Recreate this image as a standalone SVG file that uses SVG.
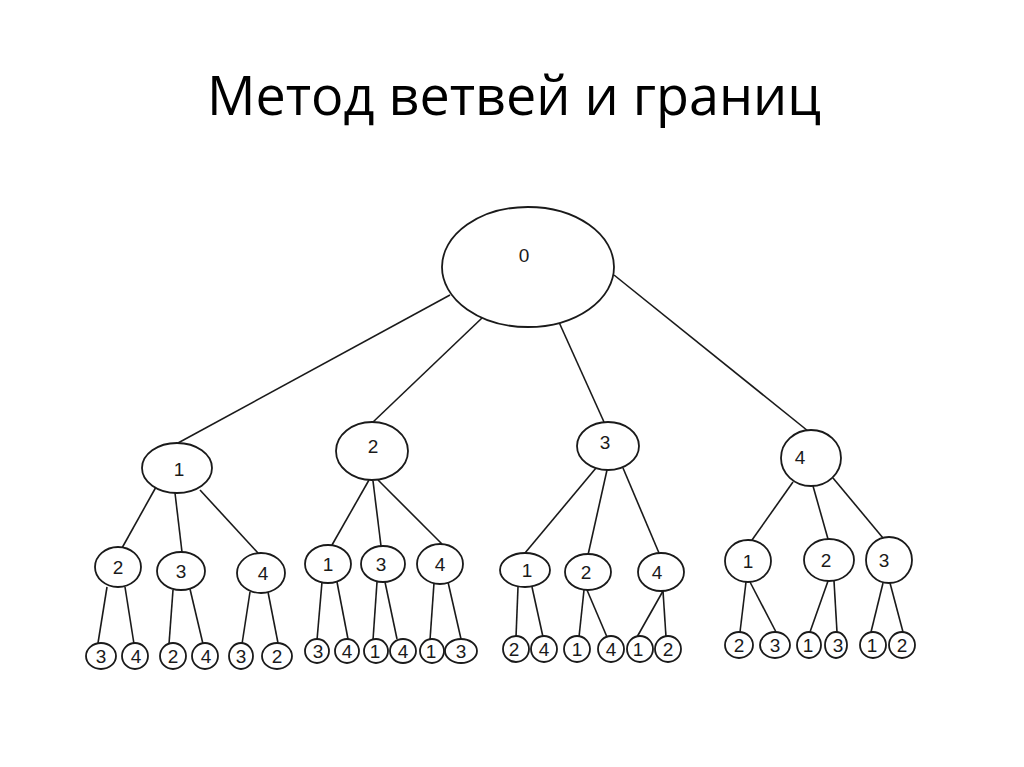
<svg xmlns="http://www.w3.org/2000/svg" width="1024" height="767" viewBox="0 0 1024 767">
<style>
.n ellipse{fill:#fff;stroke:#1a1a1a;stroke-width:1.8}
.n text{font-family:"Liberation Sans",Arial,sans-serif;font-size:19px;fill:#1a1a1a;text-anchor:middle}
#edges line{stroke:#1a1a1a;stroke-width:1.6}
.title{font-family:"Open Sans","Noto Sans",sans-serif;font-size:54px;fill:#000}
</style>
<rect width="1024" height="767" fill="#fff"/>
<text class="title" x="207" y="115" textLength="614" lengthAdjust="spacingAndGlyphs">Метод ветвей и границ</text>
<g id="edges">
<line x1="450" y1="295" x2="178" y2="443"/>
<line x1="482" y1="318" x2="372" y2="423"/>
<line x1="558" y1="320" x2="604" y2="422"/>
<line x1="614" y1="275" x2="808" y2="431"/>
<line x1="156" y1="487" x2="122" y2="548"/>
<line x1="175" y1="493" x2="182" y2="552"/>
<line x1="200" y1="490" x2="258" y2="553"/>
<line x1="107" y1="587" x2="98" y2="643"/>
<line x1="125" y1="587" x2="134" y2="644"/>
<line x1="173" y1="590" x2="169" y2="644"/>
<line x1="190" y1="589" x2="203" y2="644"/>
<line x1="250" y1="592" x2="242" y2="644"/>
<line x1="268" y1="592" x2="278" y2="643"/>
<line x1="369" y1="480" x2="332" y2="545"/>
<line x1="373" y1="481" x2="381" y2="546"/>
<line x1="378" y1="480" x2="442" y2="544"/>
<line x1="322" y1="582" x2="317" y2="640"/>
<line x1="337" y1="582" x2="348" y2="639"/>
<line x1="377" y1="582" x2="373" y2="640"/>
<line x1="385" y1="582" x2="397" y2="639"/>
<line x1="434" y1="583" x2="430" y2="640"/>
<line x1="448" y1="582" x2="461" y2="639"/>
<line x1="596" y1="468" x2="525" y2="553"/>
<line x1="607" y1="470" x2="588" y2="555"/>
<line x1="623" y1="468" x2="659" y2="553"/>
<line x1="518" y1="587" x2="516" y2="637"/>
<line x1="532" y1="587" x2="543" y2="637"/>
<line x1="584" y1="590" x2="579" y2="637"/>
<line x1="587" y1="590" x2="607" y2="637"/>
<line x1="663" y1="591" x2="637" y2="637"/>
<line x1="663" y1="591" x2="666" y2="637"/>
<line x1="793" y1="482" x2="752" y2="540"/>
<line x1="813" y1="486" x2="828" y2="539"/>
<line x1="833" y1="478" x2="883" y2="538"/>
<line x1="746" y1="582" x2="740" y2="632"/>
<line x1="750" y1="582" x2="776" y2="632"/>
<line x1="828" y1="581" x2="810" y2="632"/>
<line x1="834" y1="581" x2="837" y2="632"/>
<line x1="883" y1="583" x2="871" y2="632"/>
<line x1="890" y1="583" x2="903" y2="632"/>
</g>
<g id="n0" class="n"><ellipse cx="528" cy="267" rx="86" ry="60"/><text x="524" y="262">0</text></g>
<g id="n1" class="n"><ellipse cx="177" cy="468" rx="35" ry="25"/><text x="179" y="476">1</text></g>
<g id="n2" class="n"><ellipse cx="372" cy="451" rx="36" ry="29"/><text x="373" y="453">2</text></g>
<g id="n3" class="n"><ellipse cx="608" cy="446" rx="31" ry="24"/><text x="605" y="449">3</text></g>
<g id="n4" class="n"><ellipse cx="811" cy="458" rx="30" ry="28"/><text x="800" y="464">4</text></g>

<g id="n12" class="n"><ellipse cx="118" cy="567" rx="23" ry="20"/><text x="118" y="574">2</text></g>
<g id="n13" class="n"><ellipse cx="181" cy="571" rx="24" ry="19"/><text x="181" y="578">3</text></g>
<g id="n14" class="n"><ellipse cx="261" cy="573" rx="24" ry="20"/><text x="263" y="580">4</text></g>
<g id="n21" class="n"><ellipse cx="328" cy="564" rx="23" ry="19"/><text x="328" y="571">1</text></g>
<g id="n23" class="n"><ellipse cx="383" cy="564" rx="22" ry="18"/><text x="381" y="571">3</text></g>
<g id="n24" class="n"><ellipse cx="440" cy="564" rx="23" ry="20"/><text x="440" y="571">4</text></g>
<g id="n31" class="n"><ellipse cx="525" cy="570" rx="25" ry="17"/><text x="527" y="577">1</text></g>
<g id="n32" class="n"><ellipse cx="588" cy="572" rx="23" ry="18"/><text x="586" y="579">2</text></g>
<g id="n34" class="n"><ellipse cx="661" cy="572" rx="23" ry="19"/><text x="657" y="579">4</text></g>
<g id="n41" class="n"><ellipse cx="748" cy="561" rx="23" ry="21"/><text x="748" y="568">1</text></g>
<g id="n42" class="n"><ellipse cx="829" cy="560" rx="25" ry="21"/><text x="826" y="567">2</text></g>
<g id="n43" class="n"><ellipse cx="889" cy="560" rx="23" ry="23"/><text x="884" y="567">3</text></g>

<g id="l123" class="n"><ellipse cx="101" cy="656" rx="15" ry="13"/><text x="101" y="663">3</text></g>
<g id="l124" class="n"><ellipse cx="135" cy="656" rx="13" ry="13"/><text x="136" y="663">4</text></g>
<g id="l132" class="n"><ellipse cx="173" cy="656" rx="13" ry="13"/><text x="173" y="663">2</text></g>
<g id="l134" class="n"><ellipse cx="205" cy="656" rx="13" ry="13"/><text x="206" y="663">4</text></g>
<g id="l143" class="n"><ellipse cx="241" cy="656" rx="12" ry="13"/><text x="241" y="663">3</text></g>
<g id="l142" class="n"><ellipse cx="277" cy="656" rx="15" ry="13"/><text x="277" y="663">2</text></g>

<g id="l213" class="n"><ellipse cx="317" cy="651" rx="12" ry="12"/><text x="318" y="658">3</text></g>
<g id="l214" class="n"><ellipse cx="347" cy="651" rx="12" ry="12"/><text x="347" y="658">4</text></g>
<g id="l231" class="n"><ellipse cx="376" cy="651" rx="12" ry="12"/><text x="375" y="658">1</text></g>
<g id="l234" class="n"><ellipse cx="403" cy="651" rx="13" ry="12"/><text x="403" y="658">4</text></g>
<g id="l241" class="n"><ellipse cx="432" cy="651" rx="12" ry="12"/><text x="431" y="658">1</text></g>
<g id="l243" class="n"><ellipse cx="461" cy="651" rx="16" ry="12"/><text x="461" y="658">3</text></g>

<g id="l312" class="n"><ellipse cx="516" cy="649" rx="13" ry="13"/><text x="514" y="656">2</text></g>
<g id="l314" class="n"><ellipse cx="544" cy="649" rx="13" ry="13"/><text x="544" y="656">4</text></g>
<g id="l321" class="n"><ellipse cx="577" cy="649" rx="13" ry="13"/><text x="577" y="656">1</text></g>
<g id="l324" class="n"><ellipse cx="611" cy="649" rx="13" ry="13"/><text x="611" y="656">4</text></g>
<g id="l341" class="n"><ellipse cx="640" cy="649" rx="13" ry="13"/><text x="638" y="656">1</text></g>
<g id="l342" class="n"><ellipse cx="668" cy="649" rx="13" ry="13"/><text x="668" y="656">2</text></g>

<g id="l412" class="n"><ellipse cx="739" cy="645" rx="14" ry="13"/><text x="739" y="652">2</text></g>
<g id="l413" class="n"><ellipse cx="775" cy="645" rx="15" ry="13"/><text x="775" y="652">3</text></g>
<g id="l421" class="n"><ellipse cx="809" cy="645" rx="12" ry="13"/><text x="808" y="652">1</text></g>
<g id="l423" class="n"><ellipse cx="836" cy="645" rx="11" ry="13"/><text x="838" y="652">3</text></g>
<g id="l431" class="n"><ellipse cx="873" cy="645" rx="13" ry="13"/><text x="872" y="652">1</text></g>
<g id="l432" class="n"><ellipse cx="902" cy="645" rx="13" ry="13"/><text x="902" y="652">2</text></g>
</svg>
